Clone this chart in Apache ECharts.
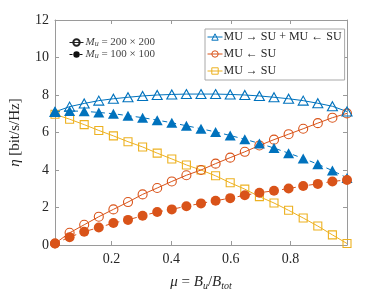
<!DOCTYPE html>
<html>
<head>
<meta charset="utf-8">
<script src="https://cdn.jsdelivr.net/npm/echarts@6/dist/echarts.min.js"></script>
<style>html,body{margin:0;padding:0;background:#fff}#c{width:374px;height:296px}</style>
</head>
<body>
<div id="c"></div>
<script>
var mu = [0.01, 0.059, 0.108, 0.157, 0.206, 0.255, 0.304, 0.353, 0.402, 0.451, 0.5,
          0.549, 0.598, 0.647, 0.696, 0.745, 0.794, 0.843, 0.892, 0.941, 0.99];
// M_u = 200 x 200 (open markers, solid lines)
var bothOpen = [7.1, 7.38, 7.55, 7.7, 7.8, 7.88, 7.95, 8.0, 8.03, 8.05, 8.05, 8.05, 8.03, 8.0, 7.95, 7.88, 7.8, 7.7, 7.56, 7.4, 7.12];
var dlOpen   = [0.08, 0.65, 1.08, 1.51, 1.9, 2.29, 2.7, 3.04, 3.39, 3.72, 4.0, 4.34, 4.66, 4.97, 5.31, 5.62, 5.91, 6.2, 6.5, 6.79, 7.02];
var ulOpen   = [6.97, 6.71, 6.42, 6.11, 5.82, 5.51, 5.23, 4.9, 4.59, 4.27, 4.0, 3.69, 3.32, 2.98, 2.58, 2.24, 1.85, 1.44, 1.01, 0.54, 0.08];
// M_u = 100 x 100 (filled markers, dashed lines)
var bothFilled = [7.12, 7.15, 7.13, 7.07, 7.0, 6.9, 6.79, 6.66, 6.52, 6.36, 6.2, 6.03, 5.84, 5.64, 5.42, 5.17, 4.9, 4.62, 4.31, 3.97, 3.58];
var dlFilled   = [0.08, 0.42, 0.71, 0.93, 1.17, 1.34, 1.56, 1.76, 1.9, 2.07, 2.22, 2.36, 2.5, 2.65, 2.79, 2.89, 3.01, 3.15, 3.26, 3.39, 3.47];
var xTicks = [0.2, 0.4, 0.6, 0.8];
var names = ['MU \u2192 SU + MU \u2190 SU', 'MU \u2190 SU', 'MU \u2192 SU'];

var BLUE = '#0072BD', ORANGE = '#D95319', YELLOW = '#EDB120';
var SERIF = '"Liberation Serif", "DejaVu Serif", serif';
var AX = '#9a9a9a', TXT = '#262626';

function pts(v){ return mu.map(function(m,i){ return [m, v[i]]; }); }

function openSeries(name, vals, color, sym, size){
  return {type:'line', name:name, data:pts(vals), symbol:sym, symbolSize:size,
    lineStyle:{color:color, width:1}, itemStyle:{color:'rgba(255,255,255,0)', borderColor:color, borderWidth:1.1},
    emphasis:{disabled:true}, z:3};
}
function filledSeries(name, vals, color, sym, size){
  return {type:'line', name:name, data:pts(vals), symbol:sym, symbolSize:size,
    lineStyle:{color:color, width:1, type:[5,4]}, itemStyle:{color:color, borderWidth:0},
    emphasis:{disabled:true}, z:4};
}

var chart = echarts.init(document.getElementById('c'), null, {renderer:'canvas'});
var axLine = {show:true, onZero:false, lineStyle:{color:AX, width:1}};
chart.setOption({
  animation:false,
  backgroundColor:'#fff',
  grid:{left:49.5, right:27, top:20, bottom:40.5, containLabel:false},
  xAxis:[{
    type:'value', min:0.01, max:0.99, position:'bottom',
    axisLine:axLine,
    axisTick:{show:true, inside:true, length:4, lineStyle:{color:AX}, customValues:xTicks},
    axisLabel:{customValues:xTicks, formatter:function(v){return v.toFixed(1);}, margin:7,
      fontFamily:SERIF, fontSize:14, color:TXT},
    splitLine:{show:false},
    name:'{i|\u03bc}{n| = }{i|B}{s|u}{n|/}{i|B}{s|tot}', nameLocation:'middle', nameGap:28,
    nameTextStyle:{rich:{
      i:{fontFamily:SERIF, fontStyle:'italic', fontSize:15, color:TXT, verticalAlign:'middle', lineHeight:18},
      n:{fontFamily:SERIF, fontSize:15, color:TXT, verticalAlign:'middle', lineHeight:18},
      s:{fontFamily:SERIF, fontStyle:'italic', fontSize:10, color:TXT, verticalAlign:'bottom', lineHeight:12}
    }}
  },{
    type:'value', min:0.01, max:0.99, position:'top',
    axisLine:axLine,
    axisTick:{show:true, inside:true, length:4, lineStyle:{color:AX}, customValues:xTicks},
    axisLabel:{show:false}, splitLine:{show:false}
  }],
  yAxis:[{
    type:'value', min:0, max:12, interval:2, position:'left',
    axisLine:axLine,
    axisTick:{show:true, inside:true, length:4, lineStyle:{color:AX}},
    axisLabel:{margin:6, fontFamily:SERIF, fontSize:14, color:TXT},
    splitLine:{show:false},
    name:'{i|\u03b7} {n|[bit/s/Hz]}', nameLocation:'middle', nameGap:32, nameRotate:90,
    nameTextStyle:{rich:{
      i:{fontFamily:SERIF, fontStyle:'italic', fontSize:15, color:TXT},
      n:{fontFamily:SERIF, fontSize:15, color:TXT}
    }}
  },{
    type:'value', min:0, max:12, interval:2, position:'right',
    axisLine:axLine,
    axisTick:{show:true, inside:true, length:4, lineStyle:{color:AX}},
    axisLabel:{show:false}, splitLine:{show:false}
  }],
  legend:[{
    data:names, orient:'vertical', left:205, top:29,
    itemWidth:15, itemHeight:8, itemGap:5,
    padding:[2,3,3,2],
    lineStyle:{width:1},
    itemStyle:{borderWidth:1},
    borderColor:'#a8a8a8', borderWidth:1, backgroundColor:'#fff',
    textStyle:{fontFamily:SERIF, fontSize:12, color:TXT, padding:[0,0,0,-4]},
    selectedMode:false
  },{
    data:['L200','L100'], orient:'vertical', left:69, top:37,
    itemWidth:14, itemHeight:8, itemGap:1,
    padding:0,
    lineStyle:{width:1},
    textStyle:{fontFamily:SERIF, fontSize:11, color:'#444', padding:[0,0,0,-3],
      rich:{
        i:{fontFamily:SERIF, fontStyle:'italic', fontSize:11, color:'#444', verticalAlign:'middle', lineHeight:11},
        n:{fontFamily:SERIF, fontSize:11, color:'#444', verticalAlign:'middle', lineHeight:11},
        s:{fontFamily:SERIF, fontStyle:'italic', fontSize:8, color:'#444', verticalAlign:'bottom', lineHeight:9}
      }},
    formatter:function(n){
      return n === 'L200' ? '{i|M}{s|u}{n| = 200 \u00d7 200}' : '{i|M}{s|u}{n| = 100 \u00d7 100}';
    },
    selectedMode:false
  }],
  series:[
    {type:'line', name:'L200', data:[], symbol:'circle', symbolSize:8,
      lineStyle:{color:'#222', width:1}, itemStyle:{color:'rgba(255,255,255,0)', borderColor:'#222', borderWidth:1}},
    {type:'line', name:'L100', data:[], symbol:'circle', symbolSize:9,
      lineStyle:{color:'#111', width:1, type:[3,2]}, itemStyle:{color:'#111', borderWidth:0}},
    filledSeries('bothFilled', bothFilled, BLUE, 'triangle', [11,10]),
    filledSeries('dlFilled', dlFilled, ORANGE, 'circle', 10),
    openSeries(names[2], ulOpen, YELLOW, 'rect', 8),
    openSeries(names[1], dlOpen, ORANGE, 'circle', 9),
    openSeries(names[0], bothOpen, BLUE, 'triangle', [10,9])
  ]
});
</script>
</body>
</html>
